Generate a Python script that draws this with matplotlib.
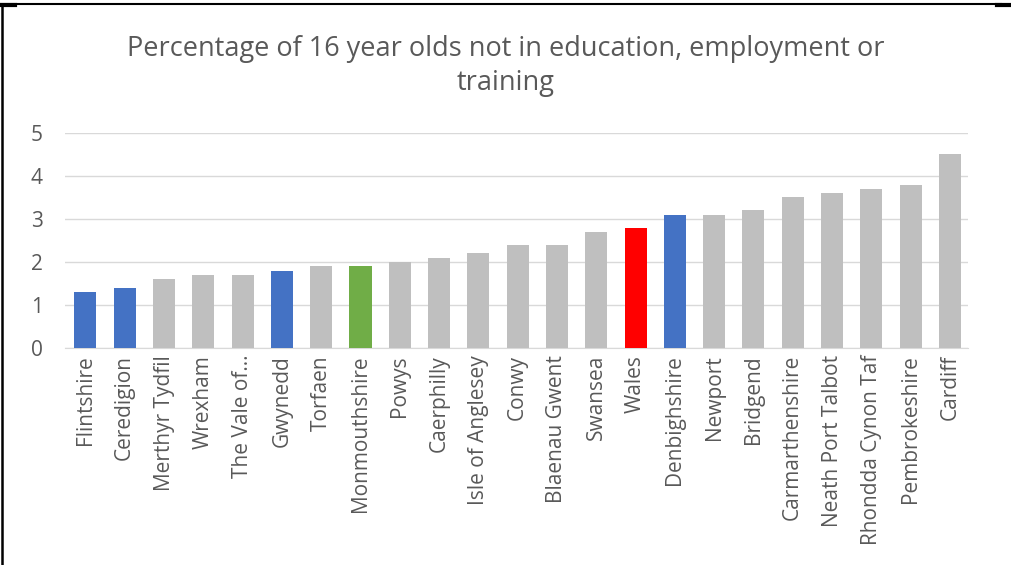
import matplotlib

matplotlib.use("Agg")
import matplotlib.pyplot as plt
from matplotlib.lines import Line2D


AREAS = [
    "Flintshire", "Ceredigion", "Merthyr Tydfil", "Wrexham", "The Vale of…",
    "Gwynedd", "Torfaen", "Monmouthshire", "Powys", "Caerphilly",
    "Isle of Anglesey", "Conwy", "Blaenau Gwent", "Swansea", "Wales",
    "Denbighshire", "Newport", "Bridgend", "Carmarthenshire",
    "Neath Port Talbot", "Rhondda Cynon Taf", "Pembrokeshire", "Cardiff",
]
PERCENT = [
    1.3, 1.4, 1.6, 1.7, 1.7, 1.8, 1.9, 1.9, 2.0, 2.1, 2.2, 2.4,
    2.4, 2.7, 2.8, 3.1, 3.1, 3.2, 3.5, 3.6, 3.7, 3.8, 4.5,
]
HIGHLIGHT = {
    "Flintshire": "#4472C4",
    "Ceredigion": "#4472C4",
    "Gwynedd": "#4472C4",
    "Denbighshire": "#4472C4",
    "Monmouthshire": "#70AD47",
    "Wales": "#FF0000",
}
TITLE = "Percentage of 16 year olds not in education, employment or\ntraining"

TEXT = "#595959"
GREY = "#BFBFBF"

plt.rcParams["font.family"] = ["Open Sans", "DejaVu Sans"]

fig = plt.figure(figsize=(10.11, 5.65), dpi=100)
ax = fig.add_axes([65 / 1011, 1 - 348 / 565, (968 - 65) / 1011, (348 - 133) / 565])

colors = [HIGHLIGHT.get(a, GREY) for a in AREAS]
x = range(len(AREAS))
ax.bar(x, PERCENT, width=0.56, color=colors, zorder=3)

ax.set_xlim(-0.52, len(AREAS) - 0.54)
ax.set_ylim(0, 5)
ax.set_yticks(range(0, 6))
ax.set_xticks(list(x))
ax.set_xticklabels(AREAS, rotation=90, ha="center", va="top")
ax.tick_params(axis="both", length=0, colors=TEXT, labelsize=15)
ax.tick_params(axis="x", pad=5)
ax.tick_params(axis="y", pad=16)
ax.grid(axis="y", color="#D9D9D9", linewidth=1, zorder=0)
for side in ["top", "right", "left"]:
    ax.spines[side].set_visible(False)
ax.spines["bottom"].set_color("#D9D9D9")

fig.text(0.5, 1 - 66 / 565, TITLE, ha="center", va="center",
         fontsize=19.5, color=TEXT, linespacing=1.25)

# frame pieces from the original screenshot
fig.add_artist(Line2D([0, 0.99], [1 - 4 / 565] * 2, color="black", lw=1.5,
                      transform=fig.transFigure))
fig.add_artist(Line2D([0.002, 0.002], [0, 1 - 4 / 565], color="black", lw=1.8,
                      transform=fig.transFigure))
fig.add_artist(Line2D([0, 15 / 1011], [1 - 5 / 565] * 2, color="black", lw=3,
                      transform=fig.transFigure))
fig.add_artist(Line2D([997 / 1011, 1], [1 - 5 / 565] * 2, color="black", lw=3,
                      transform=fig.transFigure))

fig.savefig("out.png", dpi=100)
